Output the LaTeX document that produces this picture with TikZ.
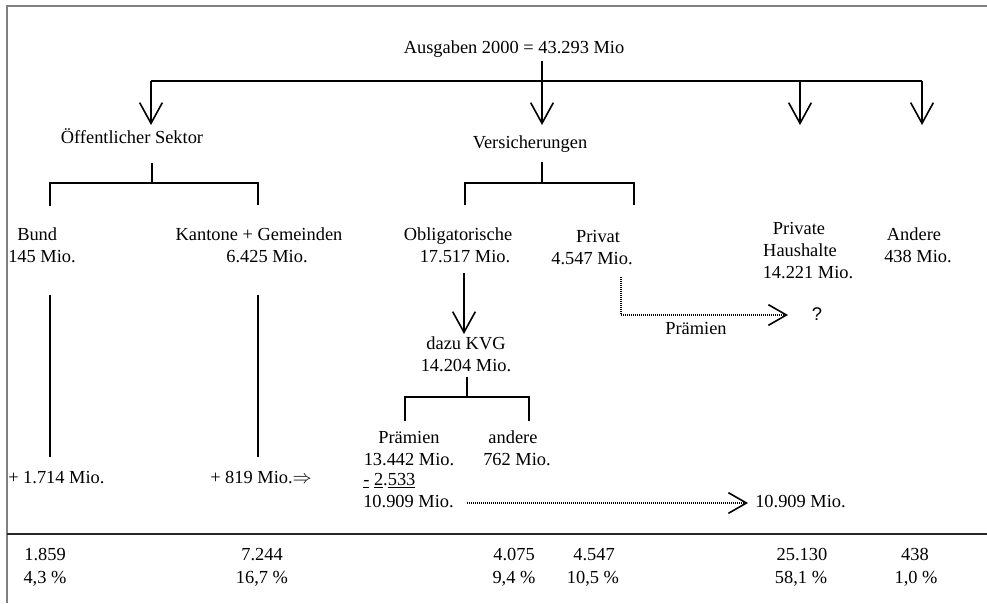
\documentclass[tikz,border=0pt]{standalone}
\usepackage{fontspec}
\setmainfont{Liberation Serif}
\newfontfamily\qfont{Liberation Sans}
\usetikzlibrary{arrows.meta}
\begin{document}
\begin{tikzpicture}[x=0.75pt,y=-0.75pt,
  lbl/.style={anchor=base,inner sep=0pt,font=\fontsize{13.8}{16.5}\selectfont},
  lblw/.style={lbl,anchor=base west},
  ln/.style={line width=1.3pt},
  arr/.style={ln,-{Straight Barb[length=15.5pt,width=17pt,line width=1.2pt]}},
  dotln/.style={line width=0.8pt,dash pattern=on 0.75pt off 0.75pt},
  darr/.style={dotln,-{Straight Barb[length=13.5pt,width=15.5pt,line width=1.2pt]}},
  framel/.style={line width=1.5pt,draw=gray}]
\useasboundingbox (0,0) rectangle (987,603);
% frame
\coordinate (fTL) at (7,6);
\coordinate (fTR) at (987,6);
\coordinate (fBL) at (7,603);
\draw[framel] (fBL) -- (fTL) -- (fTR);
% separator
\coordinate (sL) at (7,534);
\coordinate (sR) at (987,534);
\draw[line width=1.5pt,draw=black!85] (sL) -- (sR);

% labels
\node[lbl] (title) at (514,53) {Ausgaben 2000 = 43.293 Mio};
\node[lbl] (oes) at (132,143) {Öffentlicher Sektor};
\node[lbl] (vers) at (530,148) {Versicherungen};
\node[lblw] (bund) at (17,240) {Bund};
\node[lblw] (bundv) at (8,262) {145 Mio.};
\node[lbl] (kant) at (259,240) {Kantone + Gemeinden};
\node[lbl] (kantv) at (267,262) {6.425 Mio.};
\node[lbl] (obl) at (458,240) {Obligatorische};
\node[lbl] (oblv) at (465,262) {17.517 Mio.};
\node[lbl] (priv) at (598,242) {Privat};
\node[lbl] (privv) at (592,264) {4.547 Mio.};
\node[lbl] (phh1) at (799,234) {Private};
\node[lbl] (phh2) at (800,256) {Haushalte};
\node[lbl] (phhv) at (808,278) {14.221 Mio.};
\node[lbl] (andr) at (914,240) {Andere};
\node[lbl] (andrv) at (918,262) {438 Mio.};
\node[lbl] (kvg) at (466,349) {dazu KVG};
\node[lbl] (kvgv) at (466,371) {14.204 Mio.};
\node[lbl] (praem) at (409,443) {Prämien};
\node[lbl] (praemv) at (409,465) {13.442 Mio.};
\node[lblw] (abz) at (363,485) {\underline{-}\ \underline{2}.\underline{533}};
\node[lblw] (netto) at (363,507) {10.909 Mio.};
\node[lbl] (andere) at (513,443) {andere};
\node[lbl] (anderev) at (517,465) {762 Mio.};
\node[lblw] (bundp) at (8,483) {+ 1.714 Mio.};
\node[lblw] (kantp) at (210,483) {+ 819 Mio.$\Rightarrow$};
\node[lbl,font=\qfont\fontsize{13.8}{16.5}\selectfont] (q) at (817,320) {?};
\node[lbl] (pr2) at (696,334) {Prämien};
\node[lblw] (netto2) at (755,507) {10.909 Mio.};

% bottom row
\node[lbl] (s1) at (45,560) {1.859};
\node[lbl] (p1) at (45,583) {4,3 \%};
\node[lbl] (s2) at (262,560) {7.244};
\node[lbl] (p2) at (262,583) {16,7 \%};
\node[lbl] (s3) at (514,560) {4.075};
\node[lbl] (p3) at (514,583) {9,4 \%};
\node[lbl] (s4) at (594,560) {4.547};
\node[lbl] (p4) at (593,583) {10,5 \%};
\node[lbl] (s5) at (802,560) {25.130};
\node[lbl] (p5) at (801,583) {58,1 \%};
\node[lbl] (s6) at (915,560) {438};
\node[lbl] (p6) at (916,583) {1,0 \%};

% top distribution
\coordinate (tv) at (542,61);
\coordinate (tvE) at (542,125);
\coordinate (hL) at (151,81);
\coordinate (hR) at (922,81);
\coordinate (hM) at (800,81);
\coordinate (aL) at (151,125);
\coordinate (aM) at (800,125);
\coordinate (aR) at (922,125);
\draw[arr] (tv) -- (tvE);
\draw[ln] (hL) -- (hR);
\draw[arr] (hL) -- (aL);
\draw[arr] (hM) -- (aM);
\draw[arr] (hR) -- (aR);

% bracket Oeffentlicher Sektor
\coordinate (o0) at (152,163);
\coordinate (o1) at (152,183);
\coordinate (oL) at (50,183);
\coordinate (oR) at (258,183);
\coordinate (oLe) at (50,206);
\coordinate (oRe) at (258,205);
\draw[ln] (o0) -- (o1);
\draw[ln] (oLe) -- (oL) -- (oR) -- (oRe);
\coordinate (vL1) at (50,295);
\coordinate (vL2) at (50,457);
\coordinate (vR1) at (258,295);
\coordinate (vR2) at (258,457);
\draw[ln] (vL1) -- (vL2);
\draw[ln] (vR1) -- (vR2);

% bracket Versicherungen
\coordinate (w0) at (542,162);
\coordinate (w1) at (542,183);
\coordinate (wL) at (465,183);
\coordinate (wR) at (634,183);
\coordinate (wLe) at (465,205);
\coordinate (wRe) at (634,205);
\draw[ln] (w0) -- (w1);
\draw[ln] (wLe) -- (wL) -- (wR) -- (wRe);

% Obligatorische -> KVG
\coordinate (k0) at (464,273);
\coordinate (k1) at (464,334);
\draw[arr] (k0) -- (k1);

% bracket KVG
\coordinate (g0) at (467,377);
\coordinate (g1) at (467,397);
\coordinate (gL) at (405,397);
\coordinate (gR) at (529,397);
\coordinate (gLe) at (405,421);
\coordinate (gRe) at (529,421);
\draw[ln] (g0) -- (g1);
\draw[ln] (gLe) -- (gL) -- (gR) -- (gRe);

% dotted Privat -> ?
\coordinate (d0) at (621,277);
\coordinate (d1) at (621,315);
\coordinate (d2) at (788,315);
\draw[darr] (d0) -- (d1) -- (d2);

% dotted 10.909 -> 10.909
\coordinate (e0) at (467,503);
\coordinate (e1) at (748,503);
\draw[darr] (e0) -- (e1);
\end{tikzpicture}
\end{document}
